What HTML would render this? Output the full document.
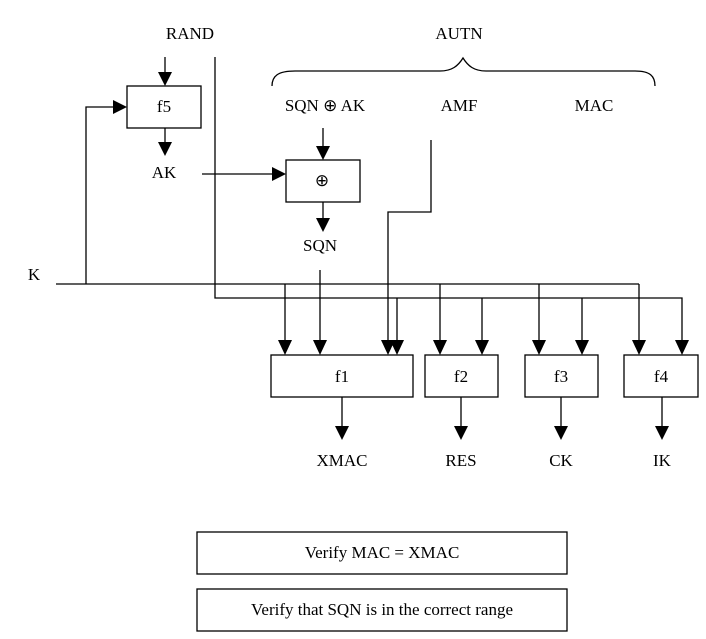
<!DOCTYPE html>
<html><head><style>
html,body{margin:0;padding:0;background:#fff;}
svg{display:block;}
text{font-family:"Liberation Serif",serif;font-size:17px;fill:#000;}
</style></head><body>
<svg width="706" height="639" viewBox="0 0 706 639" xmlns="http://www.w3.org/2000/svg">
<g stroke="#000" stroke-width="1.3" fill="none">
<line x1="165" y1="57" x2="165" y2="72"/>
<polyline points="215,57 215,298 682,298 682,340"/>
<line x1="56" y1="284" x2="639" y2="284"/>
<polyline points="86,284 86,107 113,107"/>
<line x1="639" y1="284" x2="639" y2="340"/>
<rect x="127" y="86" width="74" height="42"/>
<line x1="165" y1="128" x2="165" y2="142"/>
<line x1="202" y1="174" x2="272" y2="174"/>
<rect x="286" y="160" width="74" height="42"/>
<line x1="323" y1="128" x2="323" y2="146"/>
<line x1="323" y1="202" x2="323" y2="218"/>
<line x1="320" y1="270" x2="320" y2="340"/>
<polyline points="431,140 431,212 388,212 388,340"/>
<line x1="285" y1="284" x2="285" y2="340"/>
<line x1="440" y1="284" x2="440" y2="340"/>
<line x1="539" y1="284" x2="539" y2="340"/>
<line x1="397" y1="298" x2="397" y2="340"/>
<line x1="482" y1="298" x2="482" y2="340"/>
<line x1="582" y1="298" x2="582" y2="340"/>
<rect x="271" y="355" width="142" height="42"/>
<rect x="425" y="355" width="73" height="42"/>
<rect x="525" y="355" width="73" height="42"/>
<rect x="624" y="355" width="74" height="42"/>
<line x1="342" y1="397" x2="342" y2="426"/>
<line x1="461" y1="397" x2="461" y2="426"/>
<line x1="561" y1="397" x2="561" y2="426"/>
<line x1="662" y1="397" x2="662" y2="426"/>
<path d="M272,86 C272,76 278,71 295,71 L440,71 C452,71 458,66 463,58 C468,66 474,71 486,71 L635,71 C650,71 655,76 655,86"/>
<rect x="197" y="532" width="370" height="42"/>
<rect x="197" y="589" width="370" height="42"/>
</g>
<g fill="#000">
<polygon points="158,72 172,72 165,86"/>
<polygon points="158,142 172,142 165,156"/>
<polygon points="113,100 113,114 127,107"/>
<polygon points="272,167 272,181 286,174"/>
<polygon points="316,146 330,146 323,160"/>
<polygon points="316,218 330,218 323,232"/>
<polygon points="278,340 292,340 285,355"/>
<polygon points="313,340 327,340 320,355"/>
<polygon points="381,340 395,340 388,355"/>
<polygon points="390,340 404,340 397,355"/>
<polygon points="433,340 447,340 440,355"/>
<polygon points="475,340 489,340 482,355"/>
<polygon points="532,340 546,340 539,355"/>
<polygon points="575,340 589,340 582,355"/>
<polygon points="632,340 646,340 639,355"/>
<polygon points="675,340 689,340 682,355"/>
<polygon points="335,426 349,426 342,440"/>
<polygon points="454,426 468,426 461,440"/>
<polygon points="554,426 568,426 561,440"/>
<polygon points="655,426 669,426 662,440"/>
</g>
<text x="190" y="39" text-anchor="middle">RAND</text>
<text x="459" y="39" text-anchor="middle">AUTN</text>
<text x="164" y="112" text-anchor="middle">f5</text>
<text x="325" y="111" text-anchor="middle">SQN ⊕ AK</text>
<text x="459" y="111" text-anchor="middle">AMF</text>
<text x="594" y="111" text-anchor="middle">MAC</text>
<text x="164" y="178" text-anchor="middle">AK</text>
<text x="322" y="186" text-anchor="middle">⊕</text>
<text x="320" y="251" text-anchor="middle">SQN</text>
<text x="34" y="280" text-anchor="middle">K</text>
<text x="342" y="382" text-anchor="middle">f1</text>
<text x="461" y="382" text-anchor="middle">f2</text>
<text x="561" y="382" text-anchor="middle">f3</text>
<text x="661" y="382" text-anchor="middle">f4</text>
<text x="342" y="466" text-anchor="middle">XMAC</text>
<text x="461" y="466" text-anchor="middle">RES</text>
<text x="561" y="466" text-anchor="middle">CK</text>
<text x="662" y="466" text-anchor="middle">IK</text>
<text x="382" y="558" text-anchor="middle">Verify MAC = XMAC</text>
<text x="382" y="615" text-anchor="middle">Verify that SQN is in the correct range</text>
</svg>
</body></html>
